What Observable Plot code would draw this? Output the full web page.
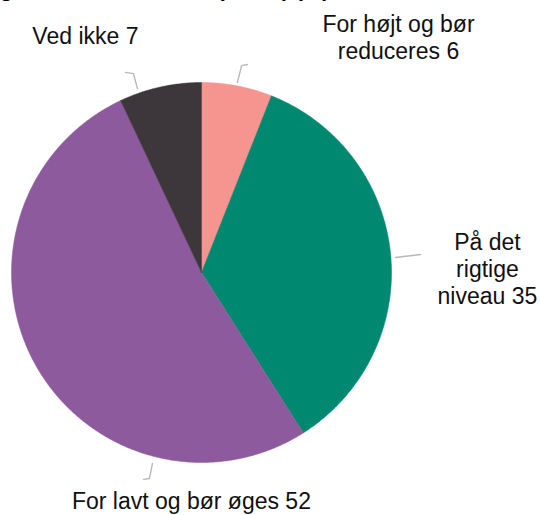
<!DOCTYPE html>
<html>
<head>
<meta charset="utf-8">
<script src="https://cdn.jsdelivr.net/npm/d3@7"></script>
<script src="https://cdn.jsdelivr.net/npm/@observablehq/plot@0.6"></script>
<style>
  html, body { margin: 0; padding: 0; background: #fff; overflow: hidden; }
  #wrap { position: relative; width: 540px; height: 515px; font-family: "Liberation Sans", Arial, sans-serif; }
  #title { position: absolute; left: -90px; top: -24px; font-size: 22px; font-weight: bold; white-space: nowrap; color: #000; line-height: 25px; }
  #chart { position: absolute; left: 0; top: 0; }
</style>
</head>
<body>
<div id="wrap">
  <div id="chart"></div>
  <div id="title">Vurdering af beløbets niveau (andel) (%)</div>
</div>
<script>
// Data, clockwise from 12 o'clock
const categories = ["For højt og bør reduceres", "På det rigtige niveau", "For lavt og bør øges", "Ved ikke"];
const values = [6, 35, 52, 7];
const labelTexts = ["For højt og bør\nreduceres 6", "På det\nrigtige\nniveau 35", "For lavt og bør øges 52", "Ved ikke 7"];

// Styling / layout (kept apart from the data)
const colors = ["#f6948f", "#008870", "#8e5a9e", "#3d373b"];
// label anchor positions, in units of the pie radius (x right, y up)
const labelPos = [[1.037, 1.242], [1.505, 0.021], [-0.053, -1.2], [-0.611, 1.25]];
// small leader ticks, in pie-radius units
const leaderPts = [
  [[0.189, 1.0], [0.211, 1.089], [0.242, 1.095]],
  [[1.021, 0.079], [1.153, 0.095]],
  [[-0.258, -1.005], [-0.274, -1.084], [-0.305, -1.089]],
  [[-0.337, 0.968], [-0.358, 1.047], [-0.4, 1.053]]
];

const total = d3.sum(values);
let acc = 0;
const slices = values.map((v, i) => {
  const a0 = acc / total * 360; acc += v; const a1 = acc / total * 360;
  return {cat: categories[i], a0, a1, i};
});
function slicePoints(s) {
  const arr = [{x: 0, y: 0}];
  const n = Math.max(2, Math.ceil((s.a1 - s.a0) * 2));
  for (let k = 0; k <= n; k++) {
    const a = (s.a0 + (s.a1 - s.a0) * k / n) * Math.PI / 180;
    arr.push({x: Math.sin(a), y: Math.cos(a)});
  }
  arr.push({x: 0, y: 0});
  return arr;
}

const labels = labelTexts.map((t, i) => ({text: t, x: labelPos[i][0], y: labelPos[i][1]}));
const leaders = leaderPts.flatMap((pts, i) => pts.map(p => ({id: i, x: p[0], y: p[1]})));

const marks = slices.map(s => Plot.line(slicePoints(s), {x: "x", y: "y", fill: colors[s.i], stroke: colors[s.i], strokeWidth: 0.5, curve: "linear"}));
marks.push(Plot.line(leaders, {x: "x", y: "y", z: "id", stroke: "#b8b8b8", strokeWidth: 1.4}));
marks.push(Plot.text(labels, {x: "x", y: "y", text: "text", fontSize: 23, lineHeight: 1.17, fill: "#111", textAnchor: "middle"}));

const chart = Plot.plot({
  width: 540,
  height: 515,
  marginLeft: 11,
  marginRight: 149,
  marginTop: 82,
  marginBottom: 53,
  x: {domain: [-1, 1], axis: null},
  y: {domain: [-1, 1], axis: null},
  style: {fontFamily: "'Liberation Sans', Arial, sans-serif", background: "transparent", overflow: "visible"},
  marks
});
document.getElementById("chart").appendChild(chart);
</script>
</body>
</html>
